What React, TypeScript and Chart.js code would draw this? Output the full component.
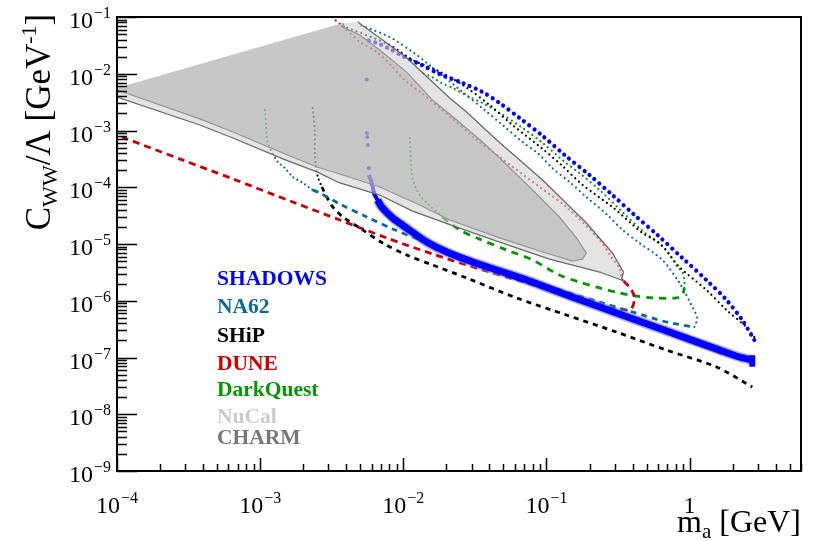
import React, { useEffect, useRef } from 'react';
import { Chart, registerables } from 'chart.js';

Chart.register(...registerables);

type Pt = [number, number]; // [m_a in GeV, C_WW/Lambda in GeV^-1]

// ---------- excluded regions ----------
const regionApex: Pt = [1e-4, 5.6e-3];
const nucalEdge: Pt[] = [
  [3.78e-3, 7.84e-2], [3.9e-3, 6.4e-2], [4.97e-3, 4.82e-2], [6.84e-3, 2.62e-2],
  [1.057e-2, 1.07e-2], [1.6e-2, 3.44e-3], [2.36e-2, 1.53e-3], [3.58e-2, 6.27e-4],
  [4.71e-2, 3.27e-4], [8.0e-2, 8.94e-5], [0.123, 2.99e-5], [0.162, 1.28e-5],
  [0.19, 6.94e-6], [0.179, 5.44e-6], [0.152, 5.01e-6], [8.95e-2, 7.53e-6],
  [4.71e-2, 1.28e-5], [2.11e-2, 2.65e-5], [1.3e-2, 4.86e-5], [6.84e-3, 1.01e-4],
  [3.6e-3, 1.71e-4], [2.49e-3, 2.27e-4], [1.44e-3, 4.01e-4], [6.45e-4, 9.41e-4],
  [3.79e-4, 1.6e-3], [1e-4, 5.18e-3],
];
const charmEdge: Pt[] = [
  [4.81e-3, 8.17e-2], [7.18e-3, 3.93e-2], [1.057e-2, 1.9e-2], [2.11e-2, 3.74e-3],
  [2.77e-2, 2.12e-3], [4.49e-2, 6.81e-4], [9.4e-2, 1.34e-4], [0.19, 2.34e-5],
  [0.289, 6.94e-6], [0.345, 3.21e-6], [0.334, 2.32e-6], [0.235, 3.21e-6],
  [0.105, 5.44e-6], [4.71e-2, 1.08e-5], [2.36e-2, 1.99e-5], [1.16e-2, 3.81e-5],
  [6.84e-3, 7.3e-5], [3.6e-3, 1.19e-4], [2.49e-3, 1.86e-4], [1.44e-3, 3.15e-4],
  [6.45e-4, 7.38e-4], [3.79e-4, 1.25e-3], [1e-4, 3.89e-3],
];

// ---------- SHADOWS ----------
const shadowsLower: Pt[] = [
  [6.62e-3, 5.96e-5], [7.06e-3, 4.49e-5], [8.43e-3, 2.87e-5], [1.057e-2, 1.91e-5],
  [1.46e-2, 1.08e-5], [2.01e-2, 7.23e-6], [3.05e-2, 4.82e-6], [4.71e-2, 3.34e-6],
  [7.26e-2, 2.32e-6], [0.145, 1.21e-6], [0.323, 5.85e-7], [0.723, 2.81e-7],
  [1.62, 1.35e-7], [2.23, 1.02e-7], [2.74, 9.04e-8],
];
const shadowsEnd: Pt[] = [[2.74, 1.1e-7], [2.74, 6.9e-8]];
const shadowsEdge: Pt[] = [
  [5.74e-3, 1.64e-4], [5.93e-3, 1.34e-4], [6.11e-3, 1.01e-4], [6.31e-3, 7.3e-5],
  [6.62e-3, 5.96e-5], [7.06e-3, 4.49e-5],
];
const shadowsEdgeDots: Pt[] = [
  [5.56e-3, 7.9e-3], [5.56e-3, 9.0e-4], [5.6e-3, 7.67e-4], [5.65e-3, 5.55e-4], [5.74e-3, 2.18e-4],
];
const shadowsUpper: Pt[] = [
  [2.83, 2.03e-7], [2.33, 4.58e-7], [1.81, 1.03e-6], [1.31, 2.32e-6], [0.891, 5.66e-6],
  [0.596, 1.44e-5], [0.412, 3.24e-5], [0.289, 7.3e-5], [0.2, 1.64e-4], [0.134, 3.7e-4],
  [9.24e-2, 8.34e-4], [6.49e-2, 1.66e-3], [4.71e-2, 3.05e-3], [3.58e-2, 4.76e-3],
  [2.6e-2, 6.87e-3], [1.79e-2, 9.9e-3], [1.34e-2, 1.43e-2], [1.02e-2, 1.97e-2],
  [7.78e-3, 2.85e-2], [6.52e-3, 3.48e-2], [5.56e-3, 3.93e-2],
];

// ---------- NA62 ----------
const na62Left: Pt[] = [
  [1.08e-3, 2.3e-3], [1.1e-3, 1.25e-3], [1.11e-3, 7.67e-4], [1.17e-3, 4.92e-4],
  [1.23e-3, 3.86e-4], [1.33e-3, 2.79e-4], [1.49e-3, 2.18e-4], [1.69e-3, 1.52e-4],
  [1.99e-3, 1.19e-4], [2.33e-3, 8.94e-5],
];
const na62Lower: Pt[] = [
  [2.33e-3, 8.94e-5], [2.61e-3, 7.92e-5], [3.6e-3, 5.07e-5], [5.56e-3, 2.99e-5],
  [8.43e-3, 1.84e-5], [1.3e-2, 1.18e-5], [2.01e-2, 7.83e-6], [3.05e-2, 5.22e-6],
  [5.27e-2, 3.21e-6], [8.0e-2, 2.23e-6], [0.138, 1.43e-6], [0.235, 9.5e-7],
  [0.399, 6.34e-7], [0.689, 4.22e-7], [1.08, 3.44e-7],
];
const na62Upper: Pt[] = [
  [1.08, 3.44e-7], [1.13, 4.97e-7], [1.03, 8.41e-7], [0.849, 2.06e-6], [0.646, 5.22e-6],
  [0.447, 1.04e-5], [0.34, 1.77e-5], [0.267, 3.24e-5], [0.19, 6.73e-5], [0.145, 1.24e-4],
  [0.11, 2.18e-4], [8.67e-2, 4.01e-4], [6.81e-2, 6.27e-4], [4.94e-2, 1.25e-3],
  [3.7e-2, 2.3e-3], [2.6e-2, 4.76e-3], [1.46e-2, 1.55e-2], [1.16e-2, 2.42e-2],
  [8.03e-3, 4.44e-2], [4.97e-3, 7.23e-2],
];

// ---------- SHiP ----------
const shipLeft: Pt[] = [
  [2.33e-3, 2.49e-3], [2.41e-3, 9.8e-4], [2.41e-3, 3.86e-4], [2.45e-3, 2.47e-4],
  [2.53e-3, 1.52e-4], [2.7e-3, 1.01e-4],
];
const shipLower: Pt[] = [
  [2.7e-3, 1.01e-4], [2.92e-3, 6.73e-5], [3.21e-3, 4.49e-5], [3.78e-3, 2.99e-5],
  [4.97e-3, 1.91e-5], [7.18e-3, 1.04e-5], [1.057e-2, 6.4e-6], [1.6e-2, 4.27e-6],
  [2.77e-2, 2.52e-6], [6.18e-2, 1.12e-6], [0.138, 5.61e-7], [0.308, 2.81e-7],
  [0.689, 1.35e-7], [1.54, 6.81e-8], [2.74, 3.02e-8],
];
const shipUpper: Pt[] = [
  [2.83, 2.3e-7], [2.49, 3.44e-7], [1.81, 6.88e-7], [1.31, 1.55e-6], [0.849, 3.94e-6],
  [0.615, 1.04e-5], [0.469, 1.56e-5], [0.289, 4.49e-5], [0.179, 1.1e-4], [0.127, 2.47e-4],
  [9.24e-2, 4.92e-4], [5.79e-2, 1.25e-3], [4.01e-2, 2.81e-3], [2.6e-2, 6.34e-3],
  [1.71e-2, 1.16e-2], [1.16e-2, 1.75e-2], [8.03e-3, 3.21e-2], [3.6e-3, 7.23e-2],
];

// ---------- DUNE ----------
const duneLower: Pt[] = [
  [1.08e-4, 7.7e-4], [2.89e-4, 3.0e-4], [6.45e-4, 1.4e-4], [1.69e-3, 5.5e-5],
  [3.6e-3, 2.65e-5], [7.66e-3, 1.28e-5], [1.6e-2, 6.67e-6], [3.41e-2, 3.62e-6],
  [7.26e-2, 2.06e-6], [0.145, 1.21e-6], [0.246, 8.41e-7], [0.38, 6.9e-7],
  [0.412, 1.03e-6], [0.393, 1.55e-6], [0.34, 2.32e-6],
];
const duneUpper: Pt[] = [
  [0.34, 2.32e-6], [0.323, 3.78e-6], [0.284, 5.9e-6], [0.235, 1.18e-5], [0.138, 4.49e-5],
  [8.95e-2, 1.01e-4], [4.71e-2, 3.41e-4], [3.15e-2, 7.38e-4], [2.18e-2, 1.66e-3],
  [1.34e-2, 4.58e-3], [1.02e-2, 7.76e-3], [8.3e-3, 1.37e-2], [6.52e-3, 2.42e-2],
  [4.97e-3, 3.63e-2], [3.9e-3, 6.4e-2], [3.16e-3, 0.1],
];

// ---------- DarkQuest ----------
const dqLeft: Pt[] = [
  [1.11e-2, 7.38e-4], [1.15e-2, 1.64e-4], [1.2e-2, 1.1e-4], [1.3e-2, 7.3e-5],
  [1.46e-2, 5.27e-5], [1.88e-2, 2.99e-5],
];
const dqLower: Pt[] = [
  [1.88e-2, 2.99e-5], [2.48e-2, 1.77e-5], [3.41e-2, 1.22e-5], [5.27e-2, 7.83e-6],
  [8.0e-2, 5.22e-6], [0.123, 2.84e-6], [0.17, 2.14e-6], [0.235, 1.68e-6],
  [0.323, 1.37e-6], [0.425, 1.21e-6], [0.55, 1.12e-6], [0.809, 1.12e-6],
  [0.891, 1.26e-6], [0.92, 1.68e-6],
];
const dqUpper: Pt[] = [
  [0.92, 1.68e-6], [0.92, 2.32e-6], [0.891, 3.21e-6], [0.822, 3.94e-6], [0.689, 7.83e-6],
  [0.461, 1.77e-5], [0.34, 3.66e-5], [0.235, 8.94e-5], [0.17, 1.78e-4], [0.134, 2.79e-4],
  [9.4e-2, 6.03e-4], [6.81e-2, 1.11e-3], [4.86e-2, 1.95e-3], [3.58e-2, 3.05e-3],
  [2.9e-2, 3.89e-3], [2.21e-2, 5.61e-3], [1.85e-2, 6.87e-3], [1.58e-2, 8.77e-3],
  [1.3e-2, 1.07e-2],
];

// ---------- axes & legend ----------
const xRange: Pt = [1e-4, 6];
const yRange: Pt = [1e-9, 0.1];
const xTickExponents = [-4, -3, -2, -1, 0];
const yTickExponents = [-9, -8, -7, -6, -5, -4, -3, -2, -1];
const legendLabels = ['SHADOWS', 'NA62', 'SHiP', 'DUNE', 'DarkQuest', 'NuCal', 'CHARM'];
const legendColors = ['#0000ff', '#0a6b98', '#000000', '#cc0000', '#009900', '#cccccc', '#777777'];

const SERIF = "'Liberation Serif', 'Times New Roman', serif";

const toXY = (pts: Pt[]) => pts.map(([x, y]) => ({ x, y }));

function curve(label: string, pts: Pt[], color: string, width: number, dash: number[], order: number, extra: any = {}) {
  return {
    label,
    data: toXY(pts),
    borderColor: color,
    borderWidth: width,
    borderDash: dash,
    borderCapStyle: 'butt',
    pointRadius: 0,
    fill: false,
    tension: 0.3,
    order,
    ...extra,
  };
}

// round-capped zero-length dashes give a row of round dots
function dotted(label: string, pts: Pt[], color: string, size: number, gap: number, order: number) {
  return curve(label, pts, color, size, [0.01, gap], order, { borderCapStyle: 'round' });
}

function drawPower(ctx: CanvasRenderingContext2D, exp: number, x: number, base: number, align: 'center' | 'right') {
  ctx.textAlign = 'left';
  ctx.textBaseline = 'alphabetic';
  if (exp === 0) {
    ctx.font = `24px ${SERIF}`;
    const w = ctx.measureText('1').width;
    ctx.fillText('1', align === 'center' ? x - w / 2 : x - w, base);
    return;
  }
  ctx.font = `24px ${SERIF}`;
  const mainW = ctx.measureText('10').width;
  ctx.font = `16px ${SERIF}`;
  const sup = '\u2212' + Math.abs(exp);
  const supW = ctx.measureText(sup).width;
  const total = mainW + supW + 1;
  const x0 = align === 'center' ? x - total / 2 : x - total;
  ctx.font = `24px ${SERIF}`;
  ctx.fillText('10', x0, base);
  ctx.font = `16px ${SERIF}`;
  ctx.fillText(sup, x0 + mainW + 1, base - 10);
}

const decorations = {
  id: 'decorations',
  afterDraw(chart: any) {
    const { ctx, chartArea: a, scales } = chart;
    const xs = scales.x;
    const ys = scales.y;
    ctx.save();
    ctx.fillStyle = '#000';
    ctx.strokeStyle = '#000';

    // ticks (inside the frame, left and bottom only)
    ctx.lineWidth = 1.5;
    ctx.beginPath();
    for (const e of yTickExponents) {
      for (let k = 1; k <= 9; k++) {
        const v = k * Math.pow(10, e);
        if (v > yRange[1] * 1.0001) break;
        const py = Math.round(ys.getPixelForValue(v)) + 0.5;
        const len = k === 1 ? 20 : 10;
        ctx.moveTo(a.left, py);
        ctx.lineTo(a.left + len, py);
      }
    }
    for (const e of xTickExponents) {
      for (let k = 1; k <= 9; k++) {
        const v = k * Math.pow(10, e);
        if (v > xRange[1]) break;
        const px = Math.round(xs.getPixelForValue(v)) + 0.5;
        const len = k === 1 ? 13 : 7;
        ctx.moveTo(px, a.bottom);
        ctx.lineTo(px, a.bottom - len);
      }
    }
    ctx.stroke();

    // frame
    ctx.lineWidth = 2;
    ctx.strokeRect(a.left, a.top, a.right - a.left, a.bottom - a.top);

    // tick labels
    for (const e of yTickExponents) {
      const py = ys.getPixelForValue(Math.pow(10, e));
      drawPower(ctx, e, a.left - 6, py + 11, 'right');
    }
    for (const e of xTickExponents) {
      const px = xs.getPixelForValue(Math.pow(10, e));
      drawPower(ctx, e, px, a.bottom + 42, 'center');
    }

    // y title: C_WW/Λ [GeV^-1]
    const big = 35;
    const small = 22;
    const parts: [string, number, number][] = [
      ['C', big, 0], ['WW', small, 7], ['/\u039B [GeV', big, 0], ['-1', small, -14], [']', big, 0],
    ];
    let total = 0;
    for (const [t, s] of parts) { ctx.font = `${s}px ${SERIF}`; total += ctx.measureText(t).width; }
    ctx.save();
    ctx.translate(50, 122);
    ctx.rotate(-Math.PI / 2);
    let u = -total / 2;
    ctx.textAlign = 'left';
    for (const [t, s, dy] of parts) {
      ctx.font = `${s}px ${SERIF}`;
      ctx.fillText(t, u, dy);
      u += ctx.measureText(t).width;
    }
    ctx.restore();

    // x title: m_a [GeV]
    const xparts: [string, number, number][] = [['m', 32, 0], ['a', 21, 6], [' [GeV]', 32, 0]];
    let xw = 0;
    for (const [t, s] of xparts) { ctx.font = `${s}px ${SERIF}`; xw += ctx.measureText(t).width; }
    let cx = a.right - xw;
    for (const [t, s, dy] of xparts) {
      ctx.font = `${s}px ${SERIF}`;
      ctx.fillText(t, cx, 532 + dy);
      cx += ctx.measureText(t).width;
    }

    // legend text
    const baselines = [285, 313, 342, 370, 396, 423, 444];
    ctx.font = `bold 21.5px ${SERIF}`;
    legendLabels.forEach((lab, i) => {
      ctx.fillStyle = legendColors[i];
      ctx.fillText(lab, 217, baselines[i]);
    });
    ctx.restore();
  },
};

export default function App() {
  const canvasRef = useRef<HTMLCanvasElement | null>(null);

  useEffect(() => {
    const canvas = canvasRef.current;
    if (!canvas) return;
    const blue = '#0000ff';
    const teal = '#0a6b98';
    const red = '#cc0000';
    const green = '#009900';

    const datasets: any[] = [
      // region outlines (on top)
      curve('CHARM edge', charmEdge, '#6a6a6a', 1.3, [], -2, { tension: 0 }),
      curve('NuCal edge', nucalEdge, '#959595', 1.2, [], -1, { tension: 0 }),
      // translucent exclusion fills, drawn over the projections
      {
        label: 'NuCal',
        data: toXY([regionApex, ...nucalEdge]),
        borderColor: 'rgba(0,0,0,0)', borderWidth: 0, pointRadius: 0, tension: 0,
        backgroundColor: 'rgba(165,165,165,0.45)', fill: 'shape', order: 0,
      },
      {
        label: 'CHARM',
        data: toXY([regionApex, nucalEdge[0], ...charmEdge]),
        borderColor: 'rgba(0,0,0,0)', borderWidth: 0, pointRadius: 0, tension: 0,
        backgroundColor: 'rgba(210,210,210,0.6)', fill: 'shape', order: 1,
      },
      // projected sensitivities
      curve('SHADOWS halo', shadowsLower, 'rgba(110,110,255,0.55)', 10, [], 10),
      curve('SHADOWS', shadowsLower, blue, 7, [], 9),
      curve('SHADOWS end', shadowsEnd, blue, 6, [], 9, { tension: 0 }),
      curve('SHADOWS edge', shadowsEdge, blue, 4, [], 9),
      {
        label: 'SHADOWS edge dots', data: toXY(shadowsEdgeDots), showLine: false,
        pointRadius: 2, pointBorderWidth: 0, pointBackgroundColor: blue, order: 9,
      },
      dotted('SHADOWS upper', shadowsUpper, blue, 4.2, 6.5, 9),
      dotted('NA62 left', na62Left, teal, 2.2, 4.5, 11),
      curve('NA62', na62Lower, teal, 2.8, [6, 5], 11),
      dotted('NA62 upper', na62Upper, teal, 2.2, 5, 11),
      dotted('SHiP left', shipLeft, '#000', 2.2, 4.5, 12),
      curve('SHiP', shipLower, '#000', 2.8, [5, 5], 12),
      dotted('SHiP upper', shipUpper, '#000', 2.2, 5, 12),
      curve('DUNE', duneLower, red, 2.8, [7, 5], 13),
      dotted('DUNE upper', duneUpper, red, 2.2, 5, 13),
      dotted('DarkQuest left', dqLeft, green, 2.2, 4.5, 14),
      curve('DarkQuest', dqLower, green, 2.8, [7, 6], 14),
      dotted('DarkQuest upper', dqUpper, green, 2.2, 5, 14),
    ];

    const chart = new Chart(canvas, {
      type: 'line',
      data: { datasets },
      options: {
        animation: false,
        responsive: false,
        devicePixelRatio: 1,
        events: [],
        layout: { padding: { left: 117, top: 17, right: 17, bottom: 70 } },
        plugins: { legend: { display: false }, tooltip: { enabled: false } },
        scales: {
          x: { type: 'logarithmic', min: xRange[0], max: xRange[1], display: false },
          y: { type: 'logarithmic', min: yRange[0], max: yRange[1], display: false },
        },
      } as any,
      plugins: [decorations],
    });
    return () => chart.destroy();
  }, []);

  return (
    <div style={{ position: 'fixed', left: 0, top: 0, width: 818, height: 541, background: '#fff' }}>
      <canvas ref={canvasRef} width={818} height={541} style={{ display: 'block' }} />
    </div>
  );
}
